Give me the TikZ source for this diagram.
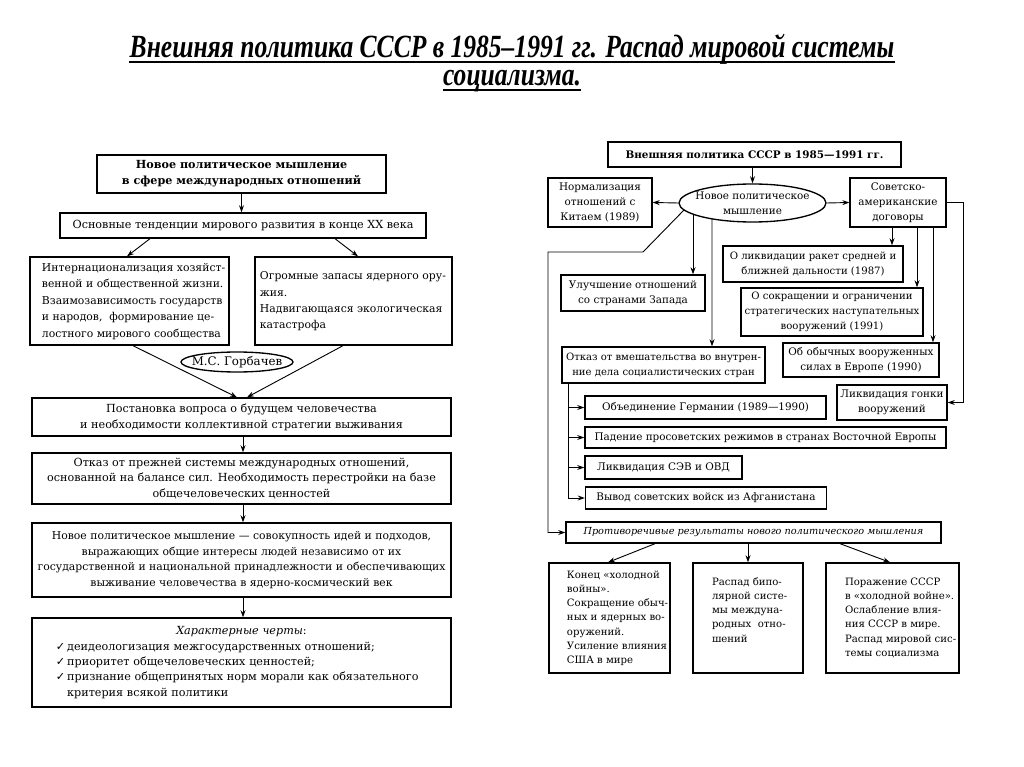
\documentclass[tikz,border=0pt]{standalone}
\usepackage{fontspec}
\usepackage{graphicx}
\setmainfont{DejaVu Serif}
\newfontfamily\titlefont{Liberation Serif}
\newfontfamily\symfont{DejaVu Sans}
\usetikzlibrary{arrows.meta, shapes.geometric, calc, positioning}
\newcommand{\lsz}{\fontsize{7.95}{11.2}\selectfont}
\newcommand{\rsz}{\fontsize{7.4}{10.7}\selectfont}
\newcommand{\bsz}{\fontsize{7.2}{10.1}\selectfont}
\newcommand{\chk}{{\symfont ✓}\,}
% left-aligned lines that never wrap
\newcommand{\lines}[2]{\makebox[#1][l]{\begin{tabular}{@{}l@{}}#2\end{tabular}}}

\begin{document}
\begin{tikzpicture}[x=0.025cm, y=-0.025cm,
    box/.style={draw, line width=0.95pt, inner sep=0pt, align=center},
    sz/.style 2 args={minimum width=#1*0.025cm, minimum height=#2*0.025cm},
    lft/.style={font=\lsz},
    rgt/.style={font=\rsz},
    res/.style={font=\bsz},
    oval/.style={draw, ellipse, line width=0.95pt, inner sep=0pt, inner xsep=-4pt, align=center, font=\rsz},
    arr/.style={-{Stealth[length=5pt, width=3.5pt]}, line width=0.65pt},
    ttl/.style={anchor=base, inner sep=0pt, font={\titlefont\bfseries\itshape\fontsize{23}{23}\selectfont}}]
    \fill[white] (0,0) rectangle (1024,767);
    \useasboundingbox (0,0) rectangle (1024,767);

    % title
    \node[ttl] (t1) at (512,58) {\scalebox{0.79}[1]{Внешняя политика СССР в 1985–1991 гг. Распад мировой системы}};
    \node[ttl] (t2) at (512,86) {\scalebox{0.79}[1]{социализма.}};
    \draw[line width=1.3pt] ($(t1.base west)+(0,4)$) -- ($(t1.base east)+(0,4)$);
    \draw[line width=1.3pt] ($(t2.base west)+(0,4)$) -- ($(t2.base east)+(0,4)$);

    % left scheme
    \node[box, lft, sz={289}{38}, font=\lsz\bfseries] (b1) at (241.5,174) {Новое политическое мышление\\в сфере международных отношений};
    \node[box, lft, sz={366}{25}] (b2) at (243,225.5) {Основные тенденции мирового развития в конце XX века};
    \node[box, sz={199}{88}, font=\fontsize{7.7}{11.7}\selectfont] (b3) at (129.5,301) {\lines{4.375cm}{Интернационализация хозяйст-\\венной и общественной жизни.\\Взаимозависимость государств\\и народов, \ формирование це-\\лостного мирового сообщества}};
    \node[box, sz={197}{88}, font=\fontsize{7.7}{11.7}\selectfont] (b4) at (353.5,301) {\lines{4.675cm}{Огромные запасы ядерного ору-\\жия.\\Надвигающаяся экологическая\\катастрофа\\ }};
    \node[inner sep=0pt, font=\fontsize{8.4}{10}\selectfont] (gorb) at (237,362) {М.С. Горбачев};
    \draw[line width=0.95pt] (gorb.center) ellipse [x radius=56, y radius=10];
    \node[box, lft, sz={419}{38}] (b5) at (241.5,417) {Постановка вопроса о будущем человечества\\и необходимости коллективной стратегии выживания};
    \node[box, lft, sz={419}{51}] (b6) at (241.5,478.5) {Отказ от прежней системы международных отношений,\\основанной на балансе сил. Необходимость перестройки на базе\\общечеловеческих ценностей};
    \node[box, sz={419}{74}, font=\fontsize{7.7}{11.2}\selectfont] (b7) at (241.5,560) {Новое политическое мышление — совокупность идей и подходов,\\выражающих общие интересы людей независимо от их\\государственной и национальной принадлежности и обеспечивающих\\выживание человечества в ядерно-космический век};
    \node[box, lft, sz={419}{89}, align=left, text width=9.275cm, font=\fontsize{7.95}{10.9}\selectfont] (b8) at (241.5,662.5) {\centerline{\textit{Характерные черты}:}
        \chk деидеологизация межгосударственных отношений;\\
        \chk приоритет общечеловеческих ценностей;\\
        \chk признание общепринятых норм морали как обязательного\\
        \phantom{\chk}критерия всякой политики};

    \draw[arr] (b1.south) -- (b1.south |- b2.north);
    \draw[arr] ($(b2.south)+(-93,0)$) -- ($(b3.north)+(-2.5,0)$);
    \draw[arr] ($(b2.south)+(92,0)$) -- ($(b4.north)+(4.5,0)$);
    \draw[arr] ($(b3.south)+(3.5,0)$) -- ($(b5.north)+(-4.5,0)$);
    \draw[arr] ($(b4.south)+(-10.5,0)$) -- ($(b5.north)+(5.5,0)$);
    \draw[arr] ($(b5.south)+(1.5,0)$) -- ($(b6.north)+(1.5,0)$);
    \draw[arr] ($(b6.south)+(1.5,0)$) -- ($(b7.north)+(1.5,0)$);
    \draw[arr] ($(b7.south)+(1.5,0)$) -- ($(b8.north)+(1.5,0)$);

    % right scheme
    \node[box, rgt, sz={293}{25}, font=\rsz\bfseries] (r1) at (754.5,154.5) {Внешняя политика СССР в 1985—1991 гг.};
    \node[oval, sz={147}{38}] (npm) at (752.5,203) {Новое политическое\\мышление};
    \node[box, rgt, sz={104}{49}] (china) at (600,202.5) {Нормализация\\отношений с\\Китаем (1989)};
    \node[box, rgt, sz={96}{49}] (sovam) at (898,202.5) {Советско-\\американские\\договоры};
    \node[box, rgt, sz={180}{36}, font=\fontsize{7.2}{10.7}\selectfont] (raket) at (813,264) {О ликвидации ракет средней и\\ближней дальности (1987)};
    \node[box, rgt, sz={182}{48}, font=\fontsize{7.2}{10.7}\selectfont] (snv) at (832,312) {О сокращении и ограничении\\стратегических наступательных\\вооружений (1991)};
    \node[box, rgt, sz={156}{34}] (obych) at (861,360) {Об обычных вооруженных\\силах в Европе (1990)};
    \node[box, rgt, sz={110}{35}] (gonka) at (892,402.5) {Ликвидация гонки\\вооружений};
    \node[box, rgt, sz={144}{36}] (zapad) at (633,293) {Улучшение отношений\\со странами Запада};
    \node[box, rgt, sz={203}{36}, font=\fontsize{7.15}{10.7}\selectfont] (otkaz) at (663.5,365) {Отказ от вмешательства во внутрен-\\ние дела социалистических стран};
    \node[box, rgt, sz={241}{23}] (germ) at (705.5,407.5) {Объединение Германии (1989—1990)};
    \node[box, rgt, sz={361}{21}] (padenie) at (765.5,437.5) {Падение просоветских режимов в странах Восточной Европы};
    \node[box, rgt, sz={157}{23}] (sev) at (663.5,467.5) {Ликвидация СЭВ и ОВД};
    \node[box, rgt, sz={241}{22}] (afgan) at (706,498) {Вывод советских войск из Афганистана};
    \node[box, sz={375}{21}, font=\fontsize{6.9}{10}\selectfont\itshape] (protiv) at (753.5,532.5) {Противоречивые результаты нового политического мышления};
    \node[box, res, sz={121}{110}] (res1) at (609.5,618) {\lines{2.125cm}{Конец «холодной\\войны».\\Сокращение обыч-\\ных и ядерных во-\\оружений.\\Усиление влияния\\США в мире}};
    \node[box, res, sz={110}{110}] (res2) at (748,618) {\lines{1.8cm}{Распад бипо-\\лярной систе-\\мы междуна-\\родных \ отно-\\шений\\ \\ }};
    \node[box, res, sz={133}{110}] (res3) at (892.5,618) {\lines{2.375cm}{Поражение СССР\\в «холодной войне».\\Ослабление влия-\\ния СССР в мире.\\Распад мировой сис-\\темы социализма\\ }};

    \draw[arr] (r1.south -| npm.north) -- (npm.north);
    \draw[arr] (npm.west) -- (china.east);
    \draw[arr] (npm.east) -- (sovam.west);
    \draw[arr] ($(npm.center)+(-59.5,11)$) -- ($(zapad.north)+(60,0)$);
    \draw[arr] ($(npm.center)+(-40.5,15.5)$) -- ($(otkaz.north)+(48.5,0)$);
    \coordinate (kink) at (643,252);
    \coordinate (rail) at (548,252);
    \draw[arr] ($(npm.center)+(-68.5,7)$) -- (kink) -- (rail) |- (protiv.west);
    \draw[arr] ($(sovam.south)+(-6,0)$) -- ($(raket.north)+(79,0)$);
    \draw[arr] ($(sovam.south)+(19,0)$) -- ($(snv.north)+(85,0)$);
    \draw[arr] ($(sovam.south)+(35,0)$) -- ($(obych.north)+(72,0)$);
    \draw[arr] (sovam.east) -| ($(gonka.east)+(16,0)$) -- (gonka.east);
    \coordinate (trunk) at ($(otkaz.south)+(-95.5,0)$);
    \foreach \n in {germ,padenie,sev,afgan}
        \draw[arr] (trunk) |- (\n.west);
    \draw[arr] ($(protiv.south)+(-98.5,0)$) -- ($(res1.north)+(-1.5,0)$);
    \draw[arr] (res2.north |- protiv.south) -- (res2.north);
    \draw[arr] ($(protiv.south)+(86.5,0)$) -- ($(res3.north)+(-2.5,0)$);
\end{tikzpicture}
\end{document}
